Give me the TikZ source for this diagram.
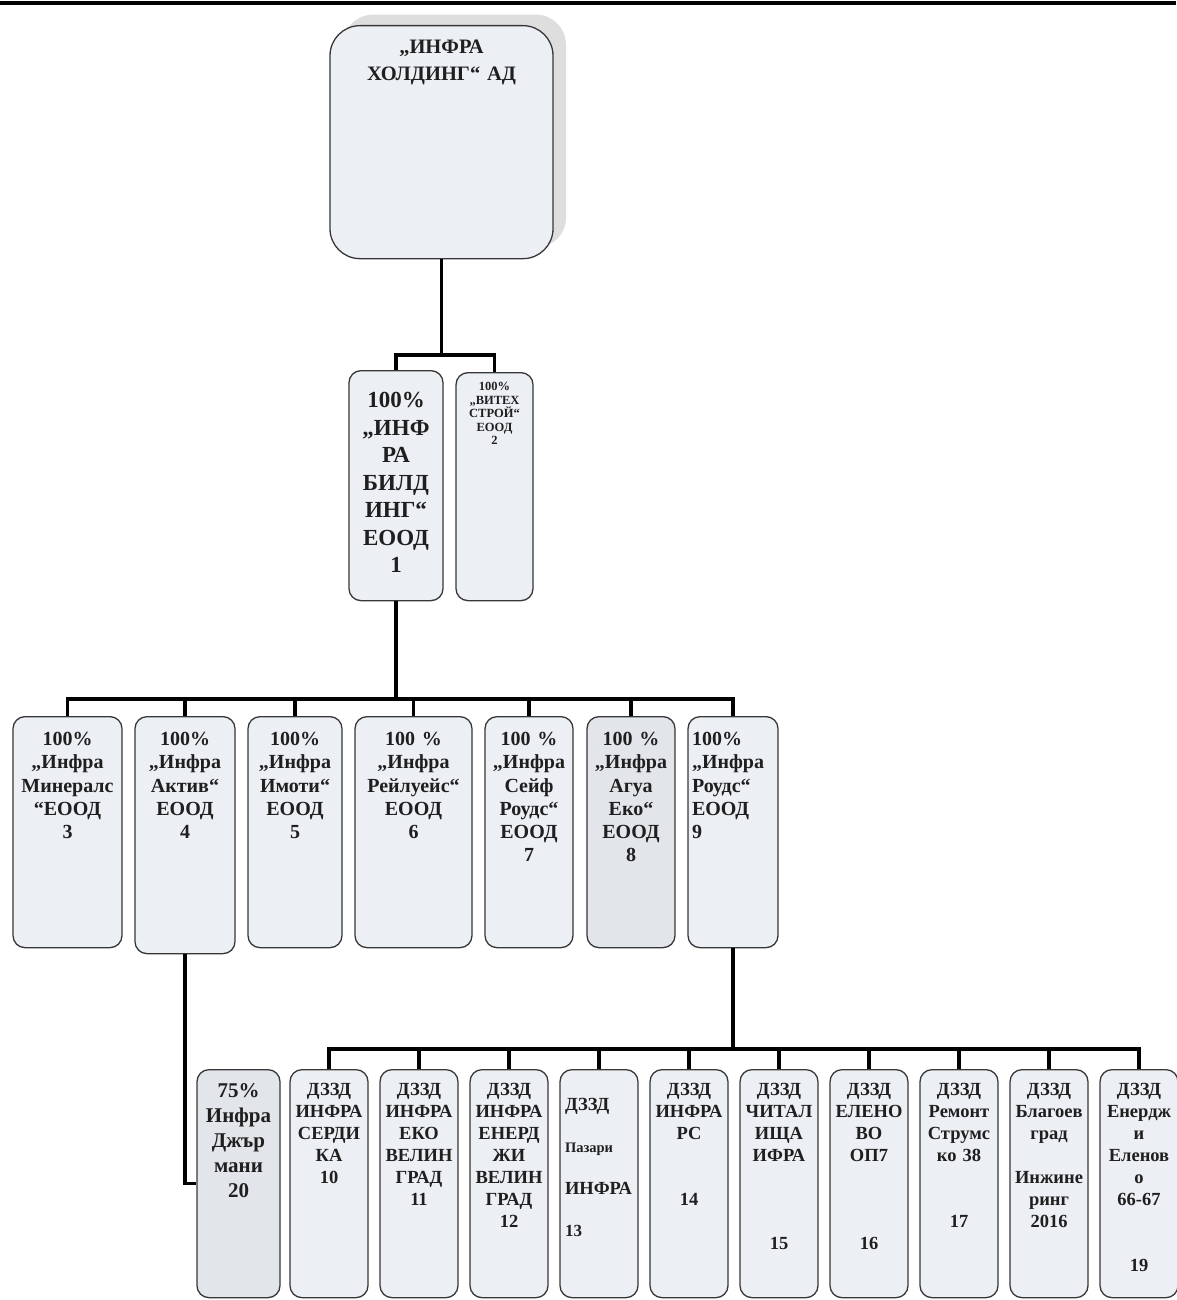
\documentclass[tikz,border=0pt]{standalone}
\usepackage{fontspec}
\setmainfont{Liberation Serif}
\usetikzlibrary{shadows}

\definecolor{boxfill}{RGB}{236,239,243}
\definecolor{boxdark}{RGB}{226,229,233}
\definecolor{edge}{RGB}{55,55,55}

\tikzset{
  unit/.style={draw=edge, line width=1.3pt, fill=boxfill, rounded corners=12pt,
    anchor=north, align=center, inner xsep=1pt, inner ysep=0pt, text=black!88},
  firm/.style={unit, text width=#1, text height=29pt, text depth=202pt,
    font=\fontsize{20}{23.2}\selectfont\bfseries},
  jv/.style={unit, text width=76pt, text height=26pt, text depth=202pt,
    font=\fontsize{18.5}{22}\selectfont\bfseries},
  link/.style={line width=3.6pt, black},
  bus/.style={link, line cap=rect},
}

\begin{document}
\begin{tikzpicture}[x=1pt, y=-1pt]
  \useasboundingbox (0,0) rectangle (1176,1300);
  \fill[white] (0,0) rectangle (1176,1300);
  \draw[line width=4.5pt] (0,3) -- (1176,3);

  % holding
  \node[unit, rounded corners=30pt, text width=221pt, text height=28pt,
    text depth=205pt, font=\fontsize{20.5}{27}\selectfont\bfseries,
    drop shadow={shadow xshift=13pt, shadow yshift=11pt, fill=black!13, opacity=1}]
    (top) at (441.5,25) {„ИНФРА\\ХОЛДИНГ“ АД};

  % second level
  \node[unit, text width=92pt, text height=37pt, text depth=193pt,
    font=\fontsize{23}{27.5}\selectfont\bfseries]
    (b1) at (396,370) {100\%\\„ИНФ\\РА\\БИЛД\\ИНГ“\\ЕООД\\1};
  \node[unit, text width=75pt, text height=18pt, text depth=210pt,
    font=\fontsize{12.5}{13.5}\selectfont\bfseries]
    (b2) at (494.5,372) {100\%\\„ВИТЕХ\\СТРОЙ“\\ЕООД\\2};

  % third level
  \node[firm=107pt] (b3) at (67.5,716) {100\%\\„Инфра\\Минералс\\“ЕООД\\3};
  \node[firm=98pt, text depth=208pt] (b4) at (185,716) {100\%\\„Инфра\\Актив“\\ЕООД\\4};
  \node[firm=92pt] (b5) at (295,716) {100\%\\„Инфра\\Имоти“\\ЕООД\\5};
  \node[firm=115pt] (b6) at (413.5,716) {100 \%\\„Инфра\\Рейлуейс“\\ЕООД\\6};
  \node[firm=86pt] (b7) at (529,716) {100 \%\\„Инфра\\Сейф\\Роудс“\\ЕООД\\7};
  \node[firm=86pt, fill=boxdark] (b8) at (631,716) {100 \%\\„Инфра\\Агуа\\Еко“\\ЕООД\\8};
  \node[firm=82pt, inner xsep=4pt, align=left] (b9) at (733,716) {100\%\\„Инфра\\Роудс“\\ЕООД\\9};

  % fourth level
  \node[unit, fill=boxdark, text width=81pt, text height=28pt, text depth=200pt,
    font=\fontsize{21}{25}\selectfont\bfseries]
    (b20) at (238.5,1069) {75\%\\Инфра\\Джър\\мани\\20};
  \node[jv] (b10) at (329,1069) {ДЗЗД\\ИНФРА\\СЕРДИ\\КА\\10};
  \node[jv] (b11) at (419,1069) {ДЗЗД\\ИНФРА\\ЕКО\\ВЕЛИН\\ГРАД\\11};
  \node[jv] (b12) at (509,1069) {ДЗЗД\\ИНФРА\\ЕНЕРД\\ЖИ\\ВЕЛИН\\ГРАД\\12};
  \node[jv, align=left, text width=68pt, inner xsep=5pt, text height=41pt,
    text depth=187pt, font=\fontsize{18.5}{42}\selectfont\bfseries]
    (b13) at (599,1069) {ДЗЗД\\{\fontsize{14.5}{42}\selectfont Пазари}\\ИНФРА\\{\fontsize{17}{42}\selectfont 13}};
  \node[jv] (b14) at (689,1069) {ДЗЗД\\ИНФРА\\РС\\[44pt]14};
  \node[jv] (b15) at (779,1069) {ДЗЗД\\ЧИТАЛ\\ИЩА\\ИФРА\\[66pt]15};
  \node[jv] (b16) at (869,1069) {ДЗЗД\\ЕЛЕНО\\ВО\\ОП7\\[66pt]16};
  \node[jv] (b17) at (959,1069) {ДЗЗД\\Ремонт\\Струмс\\ко 38\\[44pt]17};
  \node[jv] (b18) at (1049,1069) {ДЗЗД\\Благоев\\град\\[22pt]Инжине\\ринг\\2016};
  \node[jv] (b19) at (1139,1069) {ДЗЗД\\Енердж\\и\\Еленов\\о\\66-67\\[44pt]19};

  % connectors
  \coordinate (bus1) at (0,355);
  \coordinate (bus2) at (0,699);
  \coordinate (bus3) at (0,1049);

  \draw[link] (top.south) -- (top.south |- bus1);
  \draw[bus] (b1.north |- bus1) -- (b2.north |- bus1);
  \foreach \n in {1,2}
    \draw[link] (b\n.north |- bus1) -- (b\n.north);

  \draw[link] (b1.south) -- (b1.south |- bus2);
  \draw[bus] (b3.north |- bus2) -- (b9.north |- bus2);
  \foreach \n in {3,...,9}
    \draw[link] (b\n.north |- bus2) -- (b\n.north);

  \draw[link] (b9.south) -- (b9.south |- bus3);
  \draw[bus] (b10.north |- bus3) -- (b19.north |- bus3);
  \foreach \n in {10,...,19}
    \draw[link] (b\n.north |- bus3) -- (b\n.north);

  \draw[link] (b4.south) |- (b20.west);
\end{tikzpicture}
\end{document}
